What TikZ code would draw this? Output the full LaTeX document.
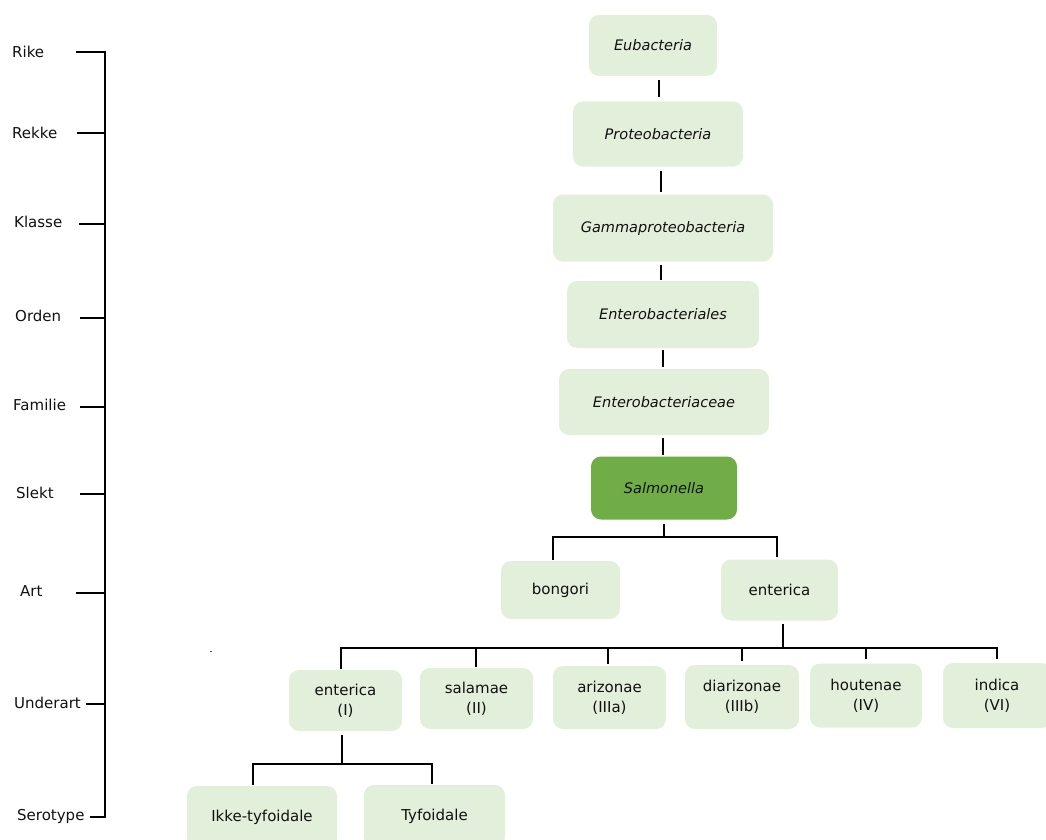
\documentclass[tikz,border=0pt]{standalone}
\usepackage{fontspec}
\setmainfont{DejaVu Sans}
\definecolor{lightg}{HTML}{E2EFDA}
\definecolor{darkg}{HTML}{70AD47}
\definecolor{txt}{HTML}{111111}
\begin{document}
\begin{tikzpicture}[x=1pt,y=-1pt,
  box/.style={rectangle, rounded corners=10pt, fill=lightg, draw=none, align=center,
    text=txt, font=\fontsize{15}{20}\selectfont, inner sep=0pt},
  ibox/.style={box, font=\fontsize{14.5}{20}\selectfont\itshape},
  conn/.style={draw=black, line width=2pt},
  lvl/.style={anchor=west, inner sep=0pt, text=txt, font=\fontsize{15}{20}\selectfont},
  tick/.style={draw=black, line width=2pt}]
\useasboundingbox (0,0) rectangle (1046,840);
\clip (0,0) rectangle (1046,840);

% left scale
\node[lvl] (lRike) at (12,52) {Rike};
\node[lvl] (lRekke) at (12,133) {Rekke};
\node[lvl] (lKlasse) at (14,222) {Klasse};
\node[lvl] (lOrden) at (15,316) {Orden};
\node[lvl] (lFamilie) at (13,405) {Familie};
\node[lvl] (lSlekt) at (16,493) {Slekt};
\node[lvl] (lArt) at (20,591) {Art};
\node[lvl] (lUnderart) at (14,703) {Underart};
\node[lvl] (lSerotype) at (17,816) {Serotype};
\coordinate (axTop) at (105,51);
\coordinate (axBot) at (105,818);
\draw[tick] (axTop) -- (axBot);
\foreach \xa/\ya in {76/52,77/133,79/224,80/318,80/407,80/494,76/593,86/704,90/817}{
  \coordinate (t) at (\xa,\ya);
  \draw[tick] (t) -- (t -| axTop);
}

% taxonomy boxes
\node[ibox, minimum width=128pt, minimum height=61pt] (eub) at (653,45.5) {Eubacteria};
\node[ibox, minimum width=170pt, minimum height=65pt] (prot) at (658,134) {Proteobacteria};
\node[ibox, minimum width=220pt, minimum height=67pt] (gam) at (663,228) {Gammaproteobacteria};
\node[ibox, minimum width=192pt, minimum height=67pt] (entb) at (663,314.5) {Enterobacteriales};
\node[ibox, minimum width=210pt, minimum height=66pt] (entc) at (664,402) {Enterobacteriaceae};
\node[ibox, fill=darkg, minimum width=146pt, minimum height=63pt] (sal) at (664,488) {Salmonella};

\node[box, minimum width=119pt, minimum height=58pt] (bong) at (560.5,590) {bongori};
\node[box, minimum width=117pt, minimum height=61pt] (ent) at (779.5,590) {enterica};

\node[box, minimum width=113pt, minimum height=61pt] (s1) at (345.5,700.5) {enterica\\(I)};
\node[box, minimum width=113pt, minimum height=61pt] (s2) at (476.5,698.5) {salamae\\(II)};
\node[box, minimum width=113pt, minimum height=63pt] (s3) at (609.5,697.5) {arizonae\\(IIIa)};
\node[box, minimum width=114pt, minimum height=64pt] (s4) at (742,697) {diarizonae\\(IIIb)};
\node[box, minimum width=112pt, minimum height=64pt] (s5) at (866,695.5) {houtenae\\(IV)};
\node[box, minimum width=108pt, minimum height=65pt] (s6) at (997,695.5) {indica\\(VI)};

\node[box, minimum width=150pt, minimum height=62pt] (ik) at (262,817) {Ikke-tyfoidale};
\node[box, minimum width=141pt, minimum height=62pt] (ty) at (434.5,816) {Tyfoidale};

% vertical chain
\coordinate (c1) at (659,0);
\coordinate (c2) at (661,0);
\coordinate (c3) at (661,0);
\coordinate (c4) at (663,0);
\coordinate (c5) at (663,0);
\draw[conn, shorten <=4pt, shorten >=4pt] (eub.south -| c1) -- (prot.north -| c1);
\draw[conn, shorten <=4pt, shorten >=2pt] (prot.south -| c2) -- (gam.north -| c2);
\draw[conn, shorten <=3pt, shorten >=1pt] (gam.south -| c3) -- (entb.north -| c3);
\draw[conn, shorten <=2pt, shorten >=2pt] (entb.south -| c4) -- (entc.north -| c4);
\draw[conn, shorten <=3pt, shorten >=1pt] (entc.south -| c5) -- (sal.north -| c5);

% Salmonella -> species
\coordinate (j1) at (664,537);
\coordinate (b1) at (553,537);
\coordinate (b2) at (777,537);
\draw[conn, shorten <=4pt] (sal.south) -- (sal.south |- j1);
\draw[conn, shorten <=1pt, shorten >=2pt] (b1 |- bong.north) -- (b1) -- (b2) -- (b2 |- ent.north);

% enterica -> subspecies
\coordinate (j2) at (783,648);
\draw[conn, shorten <=3pt] (ent.south -| j2) -- (j2);
\coordinate (d1) at (341,648);
\coordinate (d2) at (476,648);
\coordinate (d3) at (608,648);
\coordinate (d4) at (742,648);
\coordinate (d5) at (866,648);
\coordinate (d6) at (997,648);
\draw[conn, shorten <=1pt, shorten >=4pt] (d1 |- s1.north) -- (d1) -- (d6) -- (d6 |- s6.north);
\draw[conn, shorten >=1pt] (d2) -- (d2 |- s2.north);
\draw[conn, shorten >=2pt] (d3) -- (d3 |- s3.north);
\draw[conn, shorten >=4pt] (d4) -- (d4 |- s4.north);
\draw[conn, shorten >=4pt] (d5) -- (d5 |- s5.north);

% enterica (I) -> serotypes
\coordinate (j3) at (342,764);
\coordinate (e1) at (253,764);
\coordinate (e2) at (432,764);
\draw[conn, shorten <=4pt] (s1.south -| j3) -- (j3);
\draw[conn, shorten <=1pt, shorten >=1pt] (e1 |- ik.north) -- (e1) -- (e2) -- (e2 |- ty.north);

% stray mark
\coordinate (m1) at (209.5,651);
\coordinate (m2) at (212,651);
\draw[line width=0.8pt, black!70] (m1) -- (m2);
\end{tikzpicture}
\end{document}
